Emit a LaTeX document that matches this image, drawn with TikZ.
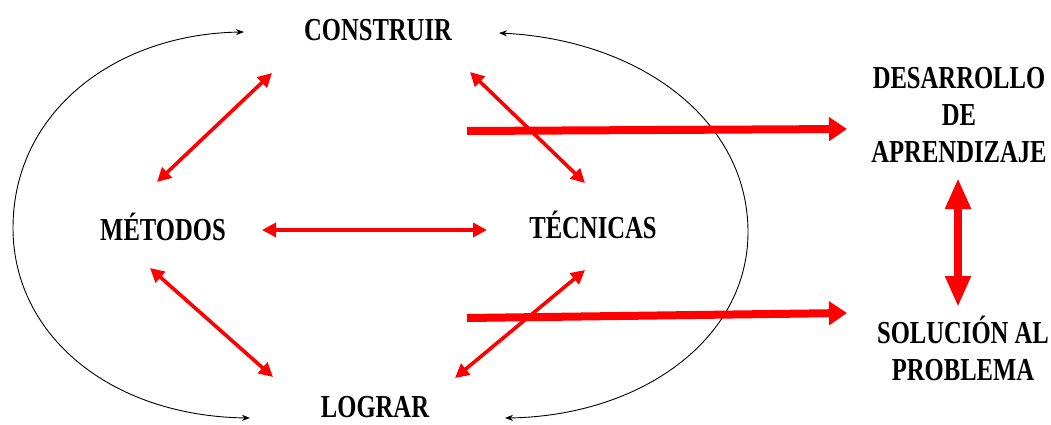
\documentclass[tikz,border=0pt]{standalone}
\usepackage{fontspec}
\setmainfont{Liberation Serif}[FakeStretch=0.77]
\usetikzlibrary{arrows.meta}
\begin{document}
\begin{tikzpicture}[x=1pt,y=-1pt,
  lbl/.style={font=\fontsize{32}{37}\selectfont\bfseries, inner sep=0pt, align=center, text=black},
  thin2/.style={red, line width=3.6pt, {Triangle[length=14pt,width=14pt]}-{Triangle[length=14pt,width=14pt]}},
  thick1/.style={red, line width=8pt, -{Triangle[length=18pt,width=23pt]}},
  thick2/.style={red, line width=8pt, {Triangle[length=31pt,width=24pt]}-{Triangle[length=31pt,width=24pt]}},
  loop/.style={black, line width=0.9pt, {Stealth[length=8pt,width=6pt]}-{Stealth[length=8pt,width=6pt]}}]
\useasboundingbox (0,0) rectangle (1051,425);
% labels
\node[lbl, anchor=base] (con) at (378,41) {CONSTRUIR};
\node[lbl, anchor=base] (met) at (163,240) {MÉTODOS};
\node[lbl, anchor=base] (tec) at (593,238) {TÉCNICAS};
\node[lbl, anchor=base] (log) at (375,417) {LOGRAR};
\node[lbl, anchor=base] (des) at (959,162) {DESARROLLO\\DE\\APRENDIZAJE};
\node[lbl, anchor=base] (sol) at (963,380) {SOLUCIÓN AL\\PROBLEMA};
% connector end points
\coordinate (cm1) at (272,73);  \coordinate (cm2) at (157,182);
\coordinate (ct1) at (470,72);  \coordinate (ct2) at (585,183);
\coordinate (mt1) at (262,230); \coordinate (mt2) at (487,230);
\coordinate (ml1) at (150,268); \coordinate (ml2) at (273,377);
\coordinate (tl1) at (585,270); \coordinate (tl2) at (455,378);
\coordinate (ad1) at (467,131); \coordinate (ad2) at (847,129);
\coordinate (as1) at (467,318); \coordinate (as2) at (847,313);
\coordinate (ds1) at (958,178); \coordinate (ds2) at (958,307);
\coordinate (lt) at (244,32);   \coordinate (lb) at (250,418);
\coordinate (rt) at (499,33);   \coordinate (rb) at (505,418);
% black loops
\draw[loop] (lt) .. controls (115,34) and (13,112) .. (13,228)
              .. controls (13,335) and (110,416) .. (lb);
\draw[loop] (rt) .. controls (640,40) and (748,120) .. (748,232)
              .. controls (748,340) and (640,416) .. (rb);
% red arrows
\draw[thin2] (cm1) -- (cm2);
\draw[thin2] (ct1) -- (ct2);
\draw[thin2] (mt1) -- (mt2);
\draw[thin2] (ml1) -- (ml2);
\draw[thin2] (tl1) -- (tl2);
\draw[thick1] (ad1) -- (ad2);
\draw[thick1] (as1) -- (as2);
\draw[thick2] (ds1) -- (ds2);
\end{tikzpicture}
\end{document}
